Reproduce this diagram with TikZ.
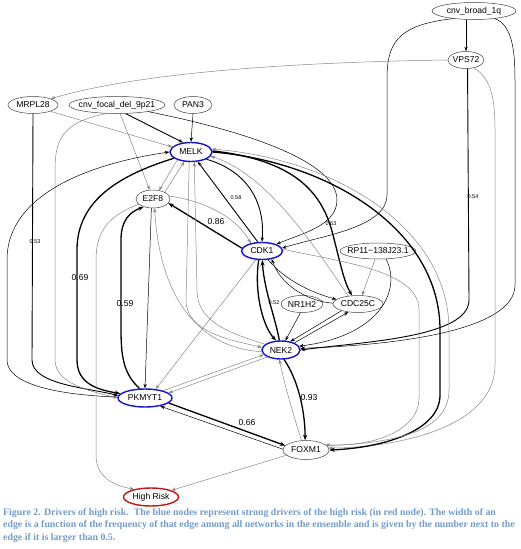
\documentclass[tikz,border=0pt]{standalone}
\usepackage{fontspec}
\usetikzlibrary{shapes.geometric,arrows.meta}
\newfontfamily\nodefont{Liberation Sans}
\newfontfamily\capfont{Liberation Serif}
\definecolor{capblue}{RGB}{115,155,200}
\definecolor{nblue}{RGB}{20,20,200}
\definecolor{nred}{RGB}{200,20,20}
\definecolor{egray}{RGB}{135,135,135}
\newcommand{\mk}[1]{\makebox[0pt][c]{#1}}
\tikzset{
  nd/.style={ellipse, draw=black!75, line width=0.5pt, inner sep=0pt, font=\nodefont\fontsize{8.6}{10}\selectfont, minimum height=17pt},
  bl/.style={nd, draw=nblue, line width=1.4pt},
  rd/.style={nd, draw=nred, line width=1.4pt},
  ed/.style={-{Stealth[length=4.5pt,width=3.4pt]}, line width=0.5pt, black},
  gr/.style={ed, egray},
  md/.style={ed, line width=0.9pt},
  tk/.style={-{Stealth[length=5.5pt,width=4.2pt]}, line width=1.3pt, black},
  sl/.style={font=\nodefont\fontsize{5.5}{6}\selectfont, inner sep=0pt},
  bgl/.style={font=\nodefont\fontsize{8.6}{10}\selectfont, inner sep=0pt}
}
\begin{document}
\begin{tikzpicture}[x=1pt,y=-1pt]
\useasboundingbox (0,0) rectangle (520,549);
% nodes
\node[nd, minimum width=84pt] (cb) at (474,11) {\mk{cnv\_broad\_1q}};
\node[nd, minimum width=36pt] (vps) at (466,60) {\mk{VPS72}};
\node[nd, minimum width=50pt] (mrpl) at (33,105) {\mk{MRPL28}};
\node[nd, minimum width=96pt] (cfd) at (117,105) {\mk{cnv\_focal\_del\_9p21}};
\node[nd, minimum width=38pt] (pan) at (193,105) {\mk{PAN3}};
\node[bl, minimum width=42pt, minimum height=19pt] (melk) at (191,152) {\mk{MELK}};
\node[nd, minimum width=34pt, minimum height=18pt] (e2f8) at (153,199) {\mk{E2F8}};
\node[bl, minimum width=41pt] (cdk1) at (262,251) {\mk{CDK1}};
\node[nd, minimum width=76pt, minimum height=16pt] (rp11) at (378,251) {\mk{RP11−138J23.1}};
\node[nd, minimum width=42pt] (nr1h2) at (302,304) {\mk{NR1H2}};
\node[nd, minimum width=50pt] (cdc) at (358,304) {\mk{CDC25C}};
\node[bl, minimum width=38pt, minimum height=18pt] (nek2) at (281,350) {\mk{NEK2}};
\node[bl, minimum width=54pt, minimum height=18pt] (pk) at (145,398) {\mk{PKMYT1}};
\node[nd, minimum width=46pt, minimum height=19pt] (fox) at (306,450) {\mk{FOXM1}};
\node[rd, minimum width=55pt, minimum height=18pt] (hr) at (151,497) {\mk{High Risk}};

% edges from cnv_broad_1q
\draw[ed] (cb.south -| vps.north) -- (vps.north);
\draw[ed] (cb.200) .. controls (395,25) and (387,45) .. (387,80) -- (387,195) .. controls (387,228) and (320,236) .. (cdk1.8);
\draw[ed] (cb.-20) .. controls (512,25) and (515,50) .. (515,80) -- (515,285) .. controls (515,330) and (400,345) .. (nek2.5);
% VPS72
\draw[gr] (vps.west) .. controls (300,62) and (140,72) .. (mrpl.north east);
\draw[md] (vps.-80) -- (469,300) .. controls (469,338) and (360,342) .. (nek2.east);
\node[sl] (l054) at (473,197) {0.54};
\draw[gr] (vps.-45) .. controls (490,78) and (495,95) .. (495,130) -- (495,365) .. controls (495,430) and (390,448) .. (fox.5);
% MRPL28
\draw[gr] (mrpl.-20) -- (melk.165);
\draw[md] (mrpl.south) -- (32,360) .. controls (32,385) and (90,388) .. (pk.175);
\node[sl] (l053) at (35,242) {0.53};
% cnv_focal_del_9p21
\draw[md] (cfd.-45) -- (melk.130);
\draw[gr] (cfd.-70) -- (e2f8.110);
\draw[gr] (cfd.-140) .. controls (62,122) and (55,140) .. (55,170) -- (55,360) .. controls (55,385) and (95,392) .. (pk.180);
\draw[ed] (cfd.-12) .. controls (240,130) and (337,160) .. (337,200) .. controls (337,226) and (300,234) .. (cdk1.25);
% PAN3
\draw[ed] (pan.south) -- (melk.north);
% MELK
\draw[gr] (melk.-150) -- (e2f8.55);
\draw[gr] (e2f8.30) -- (melk.-125);
\draw[tk] (melk.-160) .. controls (120,175) and (77,200) .. (77,250) -- (77,360) .. controls (77,385) and (100,390) .. (pk.170);
\node[bgl] (l069) at (80,278) {0.69};
\draw[ed] (pk.178) .. controls (60,395) and (7,385) .. (7,360) -- (7,260) .. controls (7,190) and (100,162) .. (melk.west);
\draw[md] (cdk1.115) -- (melk.-55);
\draw[md] (melk.-25) .. controls (250,172) and (265,205) .. (cdk1.north);
\node[sl] (l058) at (236,198) {0.58};
\draw[tk] (melk.3) .. controls (292,160) and (322,190) .. (333,235) .. controls (340,262) and (344,282) .. (cdc.125);
\node[sl] (l063) at (331,224) {0.63};
\draw[gr] (cdc.140) .. controls (320,255) and (270,175) .. (melk.-12);
\draw[tk] (melk.0) .. controls (330,162) and (440,230) .. (440,330) -- (440,395) .. controls (440,432) and (380,448) .. (fox.east);
\draw[gr] (fox.12) .. controls (400,443) and (449,430) .. (449,390) -- (449,330) .. controls (449,225) and (330,158) .. (melk.8);
% E2F8 / CDK1
\draw[tk] (cdk1.172) -- (e2f8.-15);
\node[bgl] (l086) at (216,222) {0.86};
\draw[gr] (e2f8.10) .. controls (200,200) and (235,215) .. (cdk1.145);
\draw[ed] (e2f8.-100) -- (pk.north);
\draw[tk] (pk.120) .. controls (125,375) and (121,360) .. (121,330) -- (121,240) .. controls (121,220) and (130,212) .. (e2f8.-140);
\node[bgl] (l059) at (125,304) {0.59};
\draw[gr] (e2f8.-160) .. controls (110,215) and (96,230) .. (96,260) -- (96,455) .. controls (96,475) and (110,485) .. (hr.155);
% MELK <-> NEK2, NEK2 -> E2F8
\draw[gr] (melk.-100) -- (186,300) .. controls (186,332) and (230,340) .. (nek2.172);
\draw[gr] (nek2.160) .. controls (225,332) and (197,320) .. (197,290) -- (melk.-72);
\draw[gr] (nek2.185) .. controls (200,348) and (160,300) .. (e2f8.-80);
% CDK1 <-> NEK2
\draw[tk] (cdk1.-110) .. controls (254,290) and (262,325) .. (nek2.118);
\draw[tk] (nek2.100) .. controls (276,320) and (264,290) .. (cdk1.-88);
\node[sl] (l052) at (274,303) {0.52};
% CDK1 <-> CDC25C
\draw[ed] (cdk1.-55) .. controls (285,280) and (310,292) .. (cdc.168);
\draw[ed] (cdc.178) .. controls (312,302) and (282,288) .. (cdk1.-40);
\draw[gr] (cdk1.-125) -- (pk.40);
\draw[gr] (cdk1.5) .. controls (340,262) and (419,270) .. (419,310) -- (419,398) .. controls (419,432) and (370,447) .. (fox.15);
% RP11, NR1H2
\draw[gr] (rp11.-110) -- (cdc.65);
\draw[ed] (rp11.-45) .. controls (402,290) and (380,336) .. (nek2.12);
\draw[ed] (nr1h2.-100) -- (nek2.65);
% NEK2 <-> CDC25C
\draw[ed] (nek2.28) -- (cdc.-140);
\draw[ed] (cdc.-158) -- (nek2.42);
% NEK2 <-> PKMYT1
\draw[gr] (pk.22) -- (nek2.195);
\draw[gr] (nek2.207) -- (pk.12);
% NEK2 <-> FOXM1
\draw[tk] (nek2.-72) .. controls (298,380) and (305,410) .. (fox.95);
\node[bgl] (l093) at (309,398) {0.93};
\draw[gr] (fox.115) .. controls (292,410) and (286,390) .. (nek2.-100);
% PKMYT1 <-> FOXM1
\draw[tk] (pk.-12) -- (fox.168);
\draw[ed] (fox.178) -- (pk.-28);
\node[bgl] (l066) at (247,423) {0.66};
% FOXM1 -> High Risk
\draw[gr] (fox.-165) -- (hr.18);
% caption
\node[anchor=north west, inner sep=0pt, align=left, text=capblue,
      font=\capfont\bfseries\fontsize{9.85}{12.8}\selectfont] (cap) at (3,508)
 {Figure 2. Drivers of high risk.\ \ The blue nodes represent strong drivers of the high risk (in red node). The width of an\\
  edge is a function of the frequency of that edge among all networks in the ensemble and is given by the number next to the\\
  edge if it is larger than 0.5.};
\end{tikzpicture}
\end{document}
